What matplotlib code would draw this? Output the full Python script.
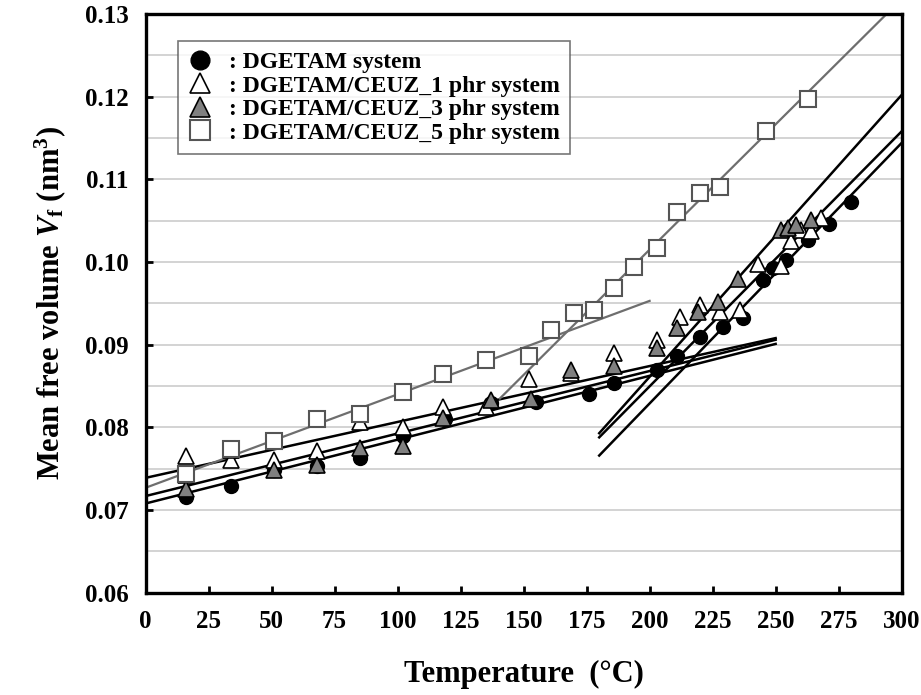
import matplotlib
matplotlib.use("Agg")
import matplotlib.pyplot as plt
from matplotlib.ticker import MultipleLocator, FormatStrFormatter

plt.rcParams["font.family"] = ["Liberation Serif", "DejaVu Serif"]
plt.rcParams["font.weight"] = "bold"
plt.rcParams["mathtext.fontset"] = "custom"
plt.rcParams["mathtext.rm"] = "Liberation Serif:bold"
plt.rcParams["mathtext.it"] = "Liberation Serif:italic:bold"
plt.rcParams["mathtext.bf"] = "Liberation Serif:bold"

# measured free volume, DGETAM neat resin
t_neat = [16, 16, 34, 51, 68, 85, 102, 119, 137, 155, 176, 186, 203, 211,
          220, 229, 237, 245, 249, 254, 263, 271, 280]
vf_neat = [0.0716, 0.0745, 0.0729, 0.0748, 0.0753, 0.0763, 0.0790, 0.0810,
           0.0830, 0.0831, 0.0841, 0.0854, 0.0870, 0.0886, 0.0909, 0.0921,
           0.0932, 0.0978, 0.0993, 0.1002, 0.1027, 0.1046, 0.1072]

# DGETAM/CEUZ 1 phr
t_1phr = [16, 16, 34, 51, 68, 85, 102, 118, 135, 152, 169, 186, 203, 212,
          220, 228, 236, 243, 252, 256, 260, 264, 268]
vf_1phr = [0.0765, 0.0742, 0.0761, 0.0761, 0.0771, 0.0806, 0.0800, 0.0825,
           0.0825, 0.0858, 0.0866, 0.0890, 0.0906, 0.0933, 0.0948, 0.0939,
           0.0942, 0.0998, 0.0995, 0.1025, 0.1039, 0.1037, 0.1053]

# DGETAM/CEUZ 3 phr
t_3phr = [16, 34, 51, 68, 85, 102, 118, 137, 153, 169, 186, 203, 211, 219,
          227, 235, 252, 255, 258, 264]
vf_3phr = [0.0726, 0.0773, 0.0749, 0.0755, 0.0775, 0.0777, 0.0812, 0.0833,
           0.0834, 0.0870, 0.0874, 0.0896, 0.0920, 0.0940, 0.0952, 0.0979,
           0.1039, 0.1041, 0.1045, 0.1051]

# DGETAM/CEUZ 5 phr
t_5phr = [16, 34, 51, 68, 85, 102, 118, 135, 152, 161, 170, 178, 186, 194,
          203, 211, 220, 228, 246, 263]
vf_5phr = [0.0744, 0.0774, 0.0784, 0.0810, 0.0816, 0.0843, 0.0864, 0.0882,
           0.0886, 0.0918, 0.0938, 0.0942, 0.0969, 0.0994, 0.1017, 0.1061,
           0.1084, 0.1091, 0.1158, 0.1197]

# linear fits below / above Tg (end points)
glassy_t = [0, 250]
glassy_1phr = [0.0739, 0.0908]
glassy_3phr = [0.0717, 0.0906]
glassy_neat = [0.0708, 0.0901]
rubber_t = [180, 300]
rubber_3phr = [0.0793, 0.1202]
rubber_1phr = [0.0788, 0.1158]
rubber_neat = [0.0766, 0.1144]
fit5_low_t = [0, 200]
fit5_low = [0.0727, 0.0953]
fit5_high_t = [140.6, 300]
fit5_high = [0.0835, 0.1318]

fig = plt.figure(figsize=(9.21, 6.95), dpi=100)
ax = fig.add_axes([0.158, 0.147, 0.821, 0.833])

for y in (glassy_1phr, glassy_3phr, glassy_neat):
    ax.plot(glassy_t, y, color="black", lw=1.8, zorder=2)
for y in (rubber_3phr, rubber_1phr, rubber_neat):
    ax.plot(rubber_t, y, color="black", lw=1.8, zorder=2)
ax.plot(fit5_low_t, fit5_low, color="#6e6e6e", lw=1.6, zorder=2)
ax.plot(fit5_high_t, fit5_high, color="#6e6e6e", lw=1.6, zorder=2)

ax.plot(t_neat, vf_neat, "o", ms=10, mfc="black", mec="black",
        label=": DGETAM system", zorder=3)
ax.plot(t_1phr, vf_1phr, "^", ms=11, mfc="white", mec="black", mew=1.2,
        label=": DGETAM/CEUZ_1 phr system", zorder=3)
ax.plot(t_3phr, vf_3phr, "^", ms=11, mfc="#808080", mec="black", mew=1.2,
        label=": DGETAM/CEUZ_3 phr system", zorder=3)
ax.plot(t_5phr, vf_5phr, "s", ms=11, mfc="white", mec="#555555", mew=1.5,
        label=": DGETAM/CEUZ_5 phr system", zorder=3)

ax.set_xlim(0, 300)
ax.set_ylim(0.06, 0.13)
ax.xaxis.set_major_locator(MultipleLocator(25))
ax.yaxis.set_major_locator(MultipleLocator(0.01))
ax.yaxis.set_minor_locator(MultipleLocator(0.005))
ax.yaxis.set_major_formatter(FormatStrFormatter("%.2f"))
ax.grid(axis="y", which="both", color="#cccccc", lw=1.2, zorder=0)
ax.set_axisbelow(True)
ax.tick_params(axis="both", which="major", direction="in", length=5,
               width=2, labelsize=18, pad=12)
ax.tick_params(axis="y", which="minor", length=0)
for s in ax.spines.values():
    s.set_linewidth(2.4)

ax.set_xlabel("Temperature  (°C)", fontsize=22, fontweight="bold", labelpad=20)
ax.set_ylabel(r"Mean free volume $\mathit{V}_\mathrm{f}$ (nm$^3$)",
              fontsize=22, fontweight="bold", labelpad=12)

leg = ax.legend(loc="upper left", bbox_to_anchor=(0.043, 0.953),
                fontsize=17, frameon=True, fancybox=False, edgecolor="#555555",
                handlelength=1.0, handletextpad=0.7, labelspacing=0.08,
                borderpad=0.45, markerscale=1.35, borderaxespad=0)
leg.get_frame().set_linewidth(1.2)
for txt in leg.get_texts():
    txt.set_fontweight("bold")

fig.savefig("out.png", dpi=100)
